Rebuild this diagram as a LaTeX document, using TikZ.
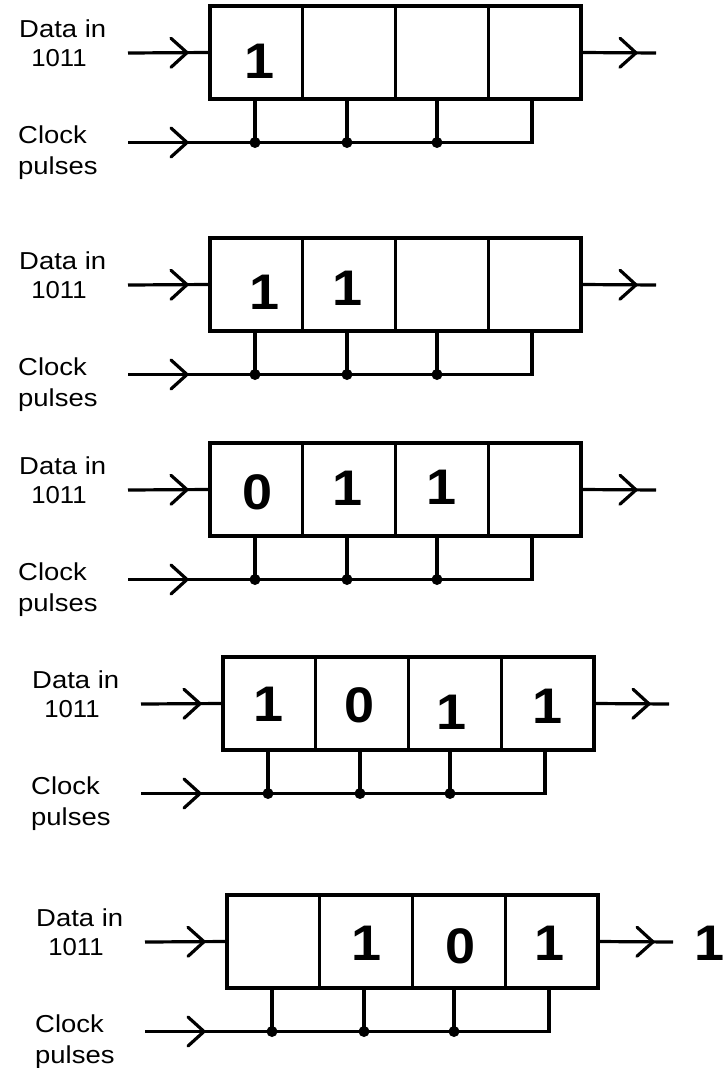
\documentclass[tikz,border=0pt]{standalone}
\usepackage{fontspec}
\usepackage{graphicx}
\setmainfont{Liberation Sans}
\usetikzlibrary{decorations.markings}
\tikzset{
  wire/.style={line width=3.2pt},
  cell/.style={draw, line width=3.2pt, rectangle, minimum width=92.75pt, minimum height=93pt, inner sep=0pt, outer sep=0pt},
  chev/.style={postaction={decorate, decoration={markings, mark=at position #1 with {\draw[line width=3.2pt, line cap=round] (-16pt,14.5pt) -- (0pt,0pt) -- (-16pt,-14.5pt);}}}},
  lbl/.style={inner sep=0pt, font=\fontsize{24.5}{24.5}\selectfont},
  bit/.style={inner sep=0pt, font=\fontsize{50}{50}\selectfont\bfseries},
  jdot/.style={fill, circle, minimum size=11pt, inner sep=0pt}
}
\newcommand{\regpanel}[3]{%
\begin{scope}[shift={(#2,#3)}]
 \node[cell, anchor=north west] (#1a) at (0,0) {};
 \node[cell, anchor=west] (#1b) at (#1a.east) {};
 \node[cell, anchor=west] (#1c) at (#1b.east) {};
 \node[cell, anchor=west] (#1d) at (#1c.east) {};
 \coordinate (#1in) at (-82,47);
 \coordinate (#1out) at (446,47);
 \coordinate (#1ck) at (-82,136.5);
 \node[jdot] (#1k1) at (45,136.5) {};
 \node[jdot] (#1k2) at (137,136.5) {};
 \node[jdot] (#1k3) at (227,136.5) {};
 \coordinate (#1k4) at (322,136.5);
 \draw[wire, chev=59pt] (#1in) -- (#1a.west);
 \draw[wire, chev=55pt] (#1d.east) -- (#1out);
 \draw[wire, chev=59pt] (#1ck) -- (#1k4) -- (#1k4 |- #1d.south);
 \draw[wire] (#1k1.center) -- (#1k1 |- #1a.south);
 \draw[wire] (#1k2.center) -- (#1k2 |- #1b.south);
 \draw[wire] (#1k3.center) -- (#1k3 |- #1c.south);
 \node[lbl, anchor=base west] (#1l1) at (-191,31) {\scalebox{1.12}[1]{Data in}};
 \node[lbl, anchor=base] (#1l2) at (-151,60) {\scalebox{1.05}[1]{1011}};
 \node[lbl, anchor=base west] (#1l3) at (-192,137.5) {\scalebox{1.12}[1]{Clock}};
 \node[lbl, anchor=base west] (#1l4) at (-192,168) {\scalebox{1.12}[1]{pulses}};
\end{scope}}
\newcommand{\bitnum}[1]{\scalebox{1.08}[1]{#1}}
\begin{document}
\begin{tikzpicture}[x=1pt,y=-1pt]
\fill[white] (0,0) rectangle (726,1068);
\useasboundingbox (0,0) rectangle (726,1068);
\regpanel{p}{210}{6}
\regpanel{q}{210}{238}
\regpanel{r}{210}{443}
\regpanel{s}{223}{657}
\regpanel{t}{227}{895}
% bits
\node[bit] (pb1) at (260,61) {\bitnum{1}};
\node[bit] (qb1) at (265,292) {\bitnum{1}};
\node[bit] (qb2) at (348,288) {\bitnum{1}};
\node[bit] (rb1) at (258,492) {\bitnum{0}};
\node[bit] (rb2) at (348,488) {\bitnum{1}};
\node[bit] (rb3) at (442,487) {\bitnum{1}};
\node[bit] (sb1) at (269,704) {\bitnum{1}};
\node[bit] (sb2) at (360,705) {\bitnum{0}};
\node[bit] (sb3) at (452,712) {\bitnum{1}};
\node[bit] (sb4) at (548,706) {\bitnum{1}};
\node[bit] (tb2) at (367,943) {\bitnum{1}};
\node[bit] (tb3) at (461,946) {\bitnum{0}};
\node[bit] (tb4) at (550,943) {\bitnum{1}};
\node[bit] (tout) at (710,943) {\bitnum{1}};
\end{tikzpicture}
\end{document}
